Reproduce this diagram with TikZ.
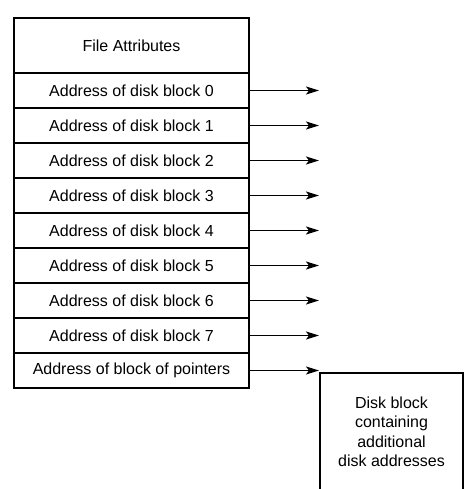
\documentclass[tikz,border=0pt]{standalone}
\usepackage{fontspec}
\setmainfont{Liberation Sans}
\usetikzlibrary{arrows.meta}
\begin{document}
\begin{tikzpicture}[x=1pt,y=-1pt,
  cell/.style={draw,line width=1.5pt,minimum width=235pt,minimum height=35pt,inner sep=0pt,
    font=\fontsize{16}{19}\selectfont},
  ptr/.style={line width=1.6pt,-{Stealth[length=13pt,width=8pt,inset=3pt]}},
  txt/.style={align=center,font=\fontsize{16}{19.5}\selectfont}]
\useasboundingbox (0,0) rectangle (469,489);
\node[cell,minimum height=55pt] (attr) at (131.5,45.5) {File Attributes};
\foreach \i in {0,...,7}{
  \node[cell] (r\i) at (131.5,90.5+35*\i) {Address of disk block \i};
  \coordinate (a\i) at (319,90.5+35*\i);
  \draw[ptr] (r\i.east) -- (a\i);
}
\node[cell] (r8) at (131.5,370.5) {Address of block of pointers};
\coordinate (a8) at (319,370.5);
\draw[ptr] (r8.east) -- (a8);
\coordinate (dbl) at (320,490);
\coordinate (dtl) at (320,373);
\coordinate (dtr) at (463,373);
\coordinate (dbr) at (463,490);
\draw[line width=1.5pt] (dbl) -- (dtl) -- (dtr) -- (dbr);
\node[txt] (dblock) at (391.5,432) {Disk block\\containing\\additional\\disk addresses};
\end{tikzpicture}
\end{document}
